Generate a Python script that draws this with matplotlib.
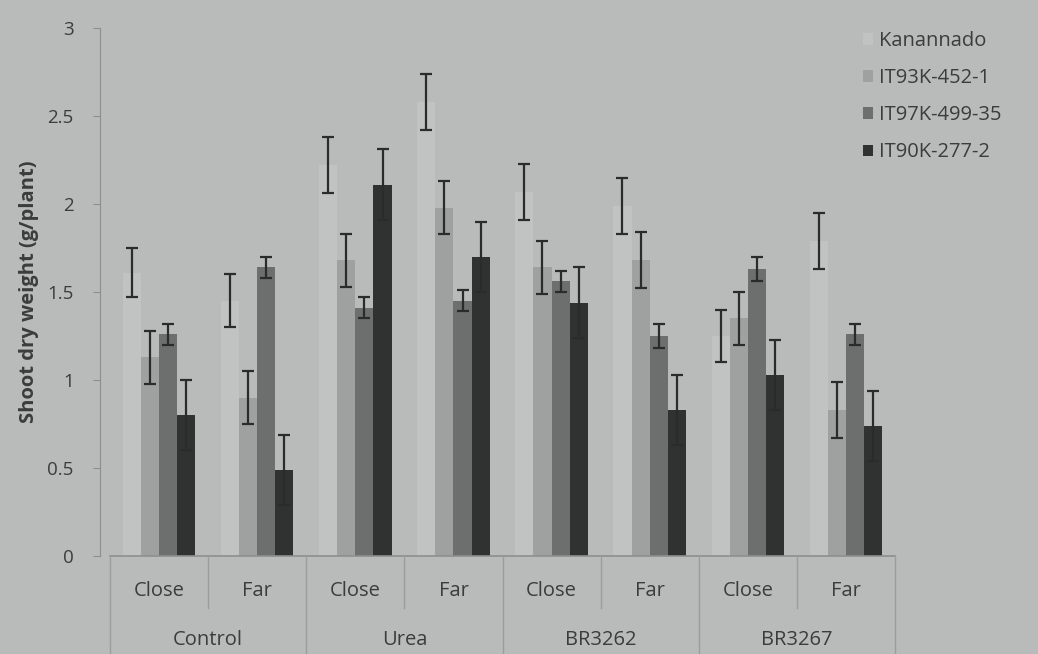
import numpy as np
import matplotlib.pyplot as plt
import matplotlib.transforms as mtransforms

# data
groups = ['Control', 'Urea', 'BR3262', 'BR3267']
distances = ['Close', 'Far']
series = ['Kanannado', 'IT93K-452-1', 'IT97K-499-35', 'IT90K-277-2']

kanannado = [1.61, 1.45, 2.22, 2.58, 2.07, 1.99, 1.25, 1.79]
it93k = [1.13, 0.90, 1.68, 1.98, 1.64, 1.68, 1.35, 0.83]
it97k = [1.26, 1.64, 1.41, 1.45, 1.56, 1.25, 1.63, 1.26]
it90k = [0.80, 0.49, 2.11, 1.70, 1.44, 0.83, 1.03, 0.74]

kanannado_err = [0.14, 0.15, 0.16, 0.16, 0.16, 0.16, 0.15, 0.16]
it93k_err = [0.15, 0.15, 0.15, 0.15, 0.15, 0.16, 0.15, 0.16]
it97k_err = [0.06, 0.06, 0.06, 0.06, 0.06, 0.07, 0.07, 0.06]
it90k_err = [0.20, 0.20, 0.20, 0.20, 0.20, 0.20, 0.20, 0.20]

values = [kanannado, it93k, it97k, it90k]
errors = [kanannado_err, it93k_err, it97k_err, it90k_err]
colors = ['#c0c3c2', '#9ea1a0', '#6c6f6e', '#2f3231']

bg = '#b8bbba'
txt = '#3a3d3c'
plt.rcParams['font.family'] = ['Open Sans', 'DejaVu Sans']

fig = plt.figure(figsize=(10.38, 6.54), dpi=100, facecolor=bg)
ax = fig.add_axes([100 / 1038, 98 / 654, 795 / 1038, 528 / 654], facecolor=bg)

n_slots = len(groups) * len(distances)
x = np.arange(n_slots)
width = 0.185
for i, (vals, errs, col) in enumerate(zip(values, errors, colors)):
    pos = x + (i - 1.5) * width
    ax.bar(pos, vals, width=width, color=col, label=series[i], zorder=2)
    ax.errorbar(pos, vals, yerr=errs, fmt='none', ecolor='#2a2c2c',
                elinewidth=1.6, capsize=4.5, capthick=1.6, zorder=3)

ax.set_xlim(-0.5 - 10 / 98.1, n_slots - 0.5)
ax.set_ylim(0, 3)
ax.set_yticks([0, 0.5, 1, 1.5, 2, 2.5, 3])
ax.set_yticklabels(['0', '0.5', '1', '1.5', '2', '2.5', '3'])
ax.tick_params(axis='y', colors='#8c8f8e', labelcolor=txt, labelsize=13.5, length=5, pad=14)
ax.set_xticks([])
for side in ['top', 'right']:
    ax.spines[side].set_visible(False)
ax.spines['left'].set_color('#8c8f8e')
ax.spines['bottom'].set_visible(False)
ax.set_ylabel('Shoot dry weight (g/plant)', fontsize=14.5, fontweight='bold', color=txt, labelpad=6)

# category table under the axis
trans = mtransforms.blended_transform_factory(ax.transData, ax.transAxes)
row1 = -52 / 528
row_bottom = -98 / 528
ax.plot([-0.5, n_slots - 0.5], [0, 0], transform=trans, color='#8c8f8e', lw=1.2, clip_on=False)
for k in range(n_slots + 1):
    b = k - 0.5
    y_end = row_bottom if k % 2 == 0 else row1
    ax.plot([b, b], [0, y_end], transform=trans, color='#9a9d9c', lw=1, clip_on=False)
for k in range(n_slots):
    ax.text(k, -35 / 528, distances[k % 2], transform=trans, ha='center', va='center',
            fontsize=14.5, color=txt)
for g, name in enumerate(groups):
    ax.text(2 * g + 0.5, -84 / 528, name, transform=trans, ha='center', va='center',
            fontsize=14.5, color=txt)

leg = fig.legend(loc='upper left', bbox_to_anchor=(845 / 1038, 1 - 13 / 654), frameon=False,
                 fontsize=14.5, handlelength=0.5, handleheight=0.5, handletextpad=0.3,
                 labelspacing=0.85)
for t in leg.get_texts():
    t.set_color(txt)

fig.savefig('out.png', dpi=100, facecolor=bg)
